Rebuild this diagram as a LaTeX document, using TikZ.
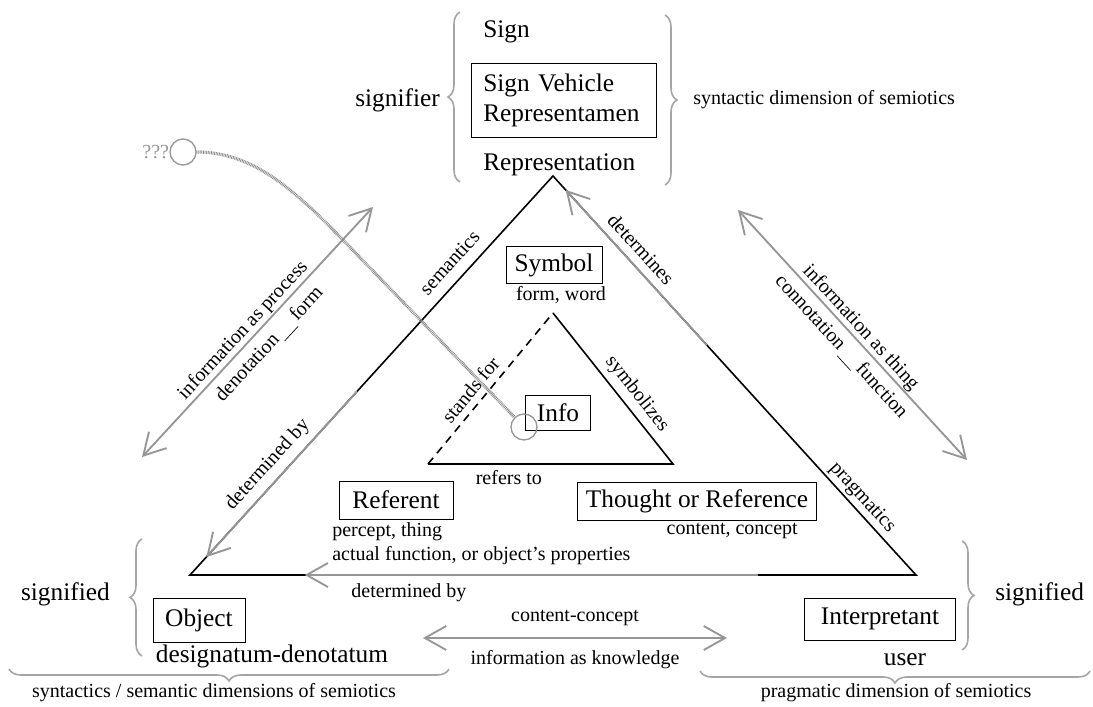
\documentclass[tikz,border=0pt]{standalone}
\usepackage{fontspec}
\setmainfont{Liberation Serif}
\usetikzlibrary{arrows.meta, decorations.pathreplacing, calc}
\definecolor{linkgray}{RGB}{150,150,150}
\definecolor{bracegray}{RGB}{165,165,165}
\definecolor{hatchgray}{RGB}{135,135,135}
\newcommand{\figlarge}{\fontsize{19}{22.5}\selectfont}
\newcommand{\figsmall}{\fontsize{15}{18}\selectfont}
\newcommand{\lowdash}{\hspace{2pt}\rule[-3pt]{15pt}{0.5pt}\hspace{2pt}}
\begin{document}
\begin{tikzpicture}[x=0.75pt, y=-0.75pt,
  edge/.style={line width=1.2pt, black, line join=miter},
  flow/.style={line width=1.4pt, draw=linkgray, -{Straight Barb[length=16pt,width=18pt]}},
  flowboth/.style={line width=1.4pt, draw=linkgray, {Straight Barb[length=16pt,width=18pt]}-{Straight Barb[length=16pt,width=18pt]}},
  box/.style={draw, line width=0.7pt, font=\figlarge, inner sep=0pt, align=center},
  big/.style={font=\figlarge, inner sep=0pt},
  small/.style={font=\figsmall, inner sep=0pt},
  brc/.style={draw=bracegray, line width=1.2pt, decorate, decoration={brace, amplitude=9pt}},
  hatch/.style={draw=hatchgray, line width=2.4pt, dash pattern=on 0.6pt off 0.6pt},
  ring/.style={circle, draw=linkgray, line width=1pt, minimum size=19.5pt, inner sep=0pt},
]
\useasboundingbox (0,0) rectangle (1093,707);

% --- sign / representamen column ---
\node[big, anchor=west] (sign) at (483,32) {Sign};
\node[box, text width=121pt, align=left, inner xsep=9pt, minimum height=55.5pt] (vehicle) at (564,100) {Sign Vehicle\\Representamen};
\node[big, anchor=west] (repr) at (483,165) {Representation};
\node[big, anchor=east] (signifier) at (440,100) {signifier};
\node[small, anchor=west] (syntactic) at (693,100) {syntactic dimension of semiotics};
\draw[brc] (460,182) -- (460,12);
\draw[brc] (665,15) -- (665,185);

% --- outer triangle ---
\coordinate (A) at (553,176);
\coordinate (BL) at (190,575);
\coordinate (BR) at (916,575);
\draw[edge] (BL) -- node[small, sloped, above=8pt, pos=0.752] (semantics) {semantics}
  (A) -- node[small, sloped, above=2pt, pos=0.827] (pragmatics) {pragmatics}
  (BR) -- cycle;

% gray relations drawn over the triangle sides
\draw[flow] ($(BL)!0.46!(A)$) -- node[small, sloped, above=5pt, pos=0.51] (detby1) {determined by} ($(BL)!0.045!(A)$);
\draw[flow] ($(A)!0.424!(BR)$) -- node[small, sloped, above=6pt, pos=0.55] (determines) {determines} ($(A)!0.035!(BR)$);
\draw[flow] ($(BL)!0.782!(BR)$) -- node[small, below=6pt, pos=0.77] (detby2) {determined by} ($(BL)!0.158!(BR)$);

% --- inner triangle ---
\coordinate (a) at (553,313);
\coordinate (bl) at (428,464);
\coordinate (br) at (673,464);
\draw[edge] (bl) -- node[small, below=4pt, pos=0.33] (refers) {refers to}
  (br) -- node[small, sloped, above=4pt, pos=0.4] (symbolizes) {symbolizes} (a);
\draw[edge, dash pattern=on 6pt off 4.5pt] (bl) -- node[small, sloped, above=5pt, pos=0.43] (stands) {stands for} (a);

% --- corner concepts ---
\node[box, minimum width=72pt, minimum height=28pt] (symbol) at (554,265) {Symbol};
\node[small] (formword) at (561,295) {form, word};
\node[box, minimum width=49pt, minimum height=26pt] (info) at (558,413) {Info};
\node[box, minimum width=85.5pt, minimum height=28.5pt] (referent) at (396,500) {Referent};
\node[small, anchor=west] (percept) at (332,532) {percept, thing};
\node[small, anchor=west] (actual) at (332,556) {actual function, or object's properties};
\node[box, minimum width=179pt, minimum height=28.5pt] (thought) at (697,501) {Thought or Reference};
\node[small, anchor=east] (content) at (798,531) {content, concept};

% --- object and interpretant ---
\node[box, minimum width=69pt, minimum height=33pt] (object) at (199,620) {Object};
\node[big] (designatum) at (272,656) {designatum-denotatum};
\node[box, minimum width=113pt, minimum height=31.5pt] (interp) at (880,619) {Interpretant};
\node[big] (user) at (905,660) {user};
\node[big, anchor=east] (sigL) at (110,594) {signified};
\node[big, anchor=west] (sigR) at (995,594) {signified};
\draw[brc] (142,656) -- (142,539);
\draw[brc] (962,541) -- (962,650);

\coordinate (kL) at (423,638);
\coordinate (kR) at (727,638);
\draw[flowboth] (kL) -- (kR);
\node[small] (cc) at (575,618) {content-concept};
\node[small] (know) at (575,660) {information as knowledge};

% --- dimensions at the bottom ---
\draw[brc] (449,669) -- (9,669);
\draw[brc] (1090,671) -- (700,671);
\node[small] (dimL) at (214,693) {syntactics / semantic dimensions of semiotics};
\node[small] (dimR) at (896,693) {pragmatic dimension of semiotics};

% --- information double arrows ---
\coordinate (pL1) at (142,457);
\coordinate (pL2) at (373,207);
\draw[flowboth] (pL1) -- node[small, sloped, above=1pt, pos=0.475] (process) {information as process}
  node[small, sloped, below=5.5pt, pos=0.497] (denot) {denotation\lowdash form} (pL2);
\coordinate (pR1) at (738,210);
\coordinate (pR2) at (967,460);
\draw[flowboth] (pR1) -- node[small, sloped, above=0.5pt, pos=0.5] (thing) {information as thing}
  node[small, sloped, below=5pt, pos=0.503] (connot) {connotation\lowdash function} (pR2);

% --- open question link ---
\node[ring] (q) at (183,152) {};
\node[small, text=linkgray, anchor=east] (qm) at (q.west) {???};
\node[ring] (ic) at (524,427) {};
\draw[hatch] (q.east) .. controls (250,152) and (290,185) .. (343,240) -- (ic);
\end{tikzpicture}
\end{document}
